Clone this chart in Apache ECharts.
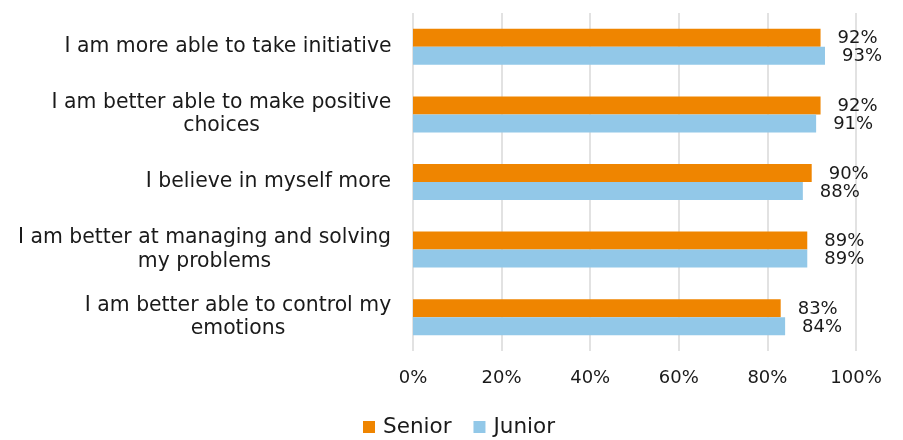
<!DOCTYPE html>
<html>
<head>
<meta charset="utf-8">
<script src="https://cdn.jsdelivr.net/npm/echarts@6/dist/echarts.min.js"></script>
<style>
  html, body { margin: 0; padding: 0; background: #fff; }
  #chart { width: 903px; height: 440px; }
</style>
</head>
<body>
<div id="chart"></div>
<script>
// Statements, listed top to bottom
const statements = [
  'I am more able to take initiative',
  'I am better able to make positive\nchoices',
  'I believe in myself more',
  'I am better at managing and solving\nmy problems',
  'I am better able to control my\nemotions'
];
// Share of students agreeing (%)
const seniorValues = [92, 92, 90, 89, 83];
const juniorValues = [93, 91, 88, 89, 84];
const seriesNames = ['Senior', 'Junior'];
const axisTicks = [0, 20, 40, 60, 80, 100];

const FONT = 'DejaVu Sans';
const TEXT = '#1a1a1a';
const CAT_SIZE = 20.4;

// Each statement is a right-aligned block whose lines are centred within it:
// one rich style per statement, as wide as its longest line.
const measureCtx = document.createElement('canvas').getContext('2d');
measureCtx.font = CAT_SIZE + 'px "' + FONT + '"';
const catRich = {};
statements.forEach((s, i) => {
  const w = Math.max(...s.split('\n').map(l => measureCtx.measureText(l).width));
  catRich['c' + i] = { width: Math.ceil(w) + 1, align: 'center', fontFamily: FONT, fontSize: CAT_SIZE, lineHeight: 23.5, color: TEXT };
});

const chart = echarts.init(document.getElementById('chart'), null, { renderer: 'canvas' });

function barSeries(name, values, color) {
  return {
    name: name,
    type: 'bar',
    data: values,
    barWidth: 18,
    barGap: '0%',
    itemStyle: { color: color },
    label: {
      show: true,
      position: 'right',
      distance: 17,
      offset: [0, 1],
      formatter: p => p.value + '%',
      fontFamily: FONT,
      fontSize: 18,
      color: TEXT
    }
  };
}

chart.setOption({
  animation: false,
  backgroundColor: '#ffffff',
  textStyle: { fontFamily: FONT },
  grid: { left: 413, right: 47, top: 13, bottom: 89, containLabel: false },
  legend: {
    data: seriesNames,
    top: 411,
    left: 358,
    icon: 'rect',
    itemWidth: 12,
    itemHeight: 12,
    itemGap: 22,
    textStyle: { fontFamily: FONT, fontSize: 21.5, color: TEXT, padding: [0, 0, 0, 3] }
  },
  xAxis: {
    type: 'value',
    min: axisTicks[0],
    max: axisTicks[axisTicks.length - 1],
    interval: axisTicks[1] - axisTicks[0],
    axisLine: { show: false },
    axisTick: { show: false },
    splitLine: { show: true, lineStyle: { color: '#d9d9d9', width: 1.5 } },
    axisLabel: {
      formatter: v => v + '%',
      fontFamily: FONT,
      fontSize: 18,
      color: TEXT,
      margin: 18
    }
  },
  yAxis: {
    type: 'category',
    data: statements,
    inverse: true,
    axisLine: { show: false },
    axisTick: { show: false },
    axisLabel: {
      margin: 21,
      align: 'right',
      formatter: (value, index) =>
        value.split('\n').map(l => '{c' + index + '|' + l + '}').join('\n'),
      rich: catRich
    }
  },
  series: [
    barSeries(seriesNames[0], seniorValues, '#ef8500'),
    barSeries(seriesNames[1], juniorValues, '#92c8e8')
  ]
});
</script>
</body>
</html>
